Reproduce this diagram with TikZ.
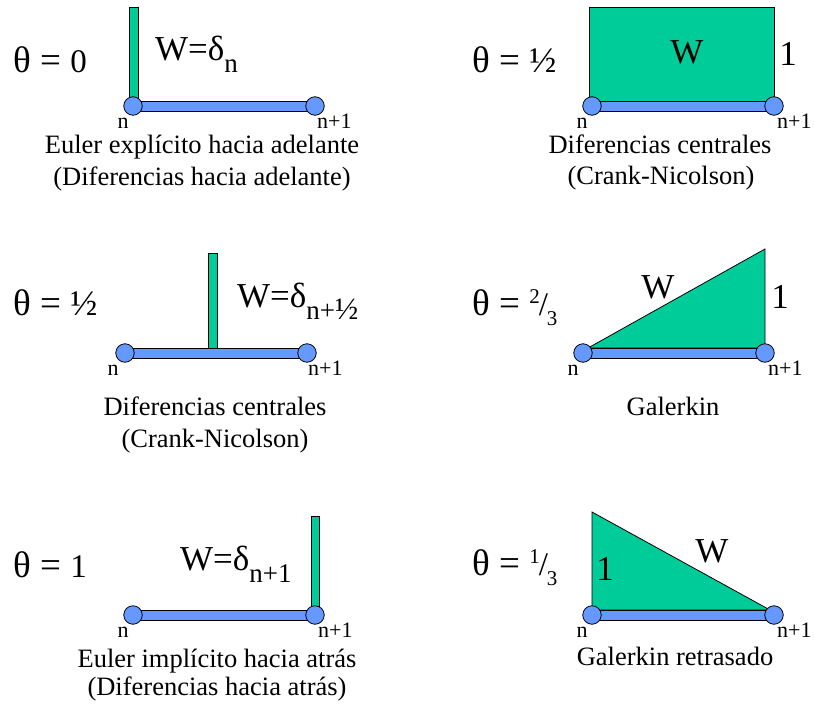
\documentclass[tikz,border=0pt]{standalone}
\usepackage{fontspec}
\setmainfont{Liberation Serif}
\definecolor{wgreen}{HTML}{00CC99}
\definecolor{nblue}{HTML}{6699FF}
\newcommand\lowsub[1]{\raisebox{-12pt}{\fontsize{27}{30}\selectfont #1}}
\newcommand\thq{{\fontsize{37}{40}\selectfont θ = }}
\newcommand\myfrac[2]{\raisebox{12pt}{\fontsize{21}{24}\selectfont #1}\kern-1pt/\kern-1pt\raisebox{-10pt}{\fontsize{21}{24}\selectfont #2}}
\newcommand\myhalf{{\fontsize{36}{40}\selectfont ½}}
\tikzset{
 dot/.style={circle,draw=black,fill=nblue,inner sep=0pt,minimum size=18.5pt,line width=0.8pt},
 barbox/.style={draw=black,fill=nblue,line width=0.8pt},
 wshape/.style={draw=black,fill=wgreen,line width=0.8pt},
 thetalbl/.style={inner sep=0pt,anchor=base west,font=\fontsize{33}{38}\selectfont},
 wlbl/.style={inner sep=0pt,anchor=base,font=\fontsize{35}{40}\selectfont},
 idx/.style={inner sep=0pt,anchor=base,font=\fontsize{22}{26}\selectfont},
 idxr/.style={idx,anchor=base west},
 captxt/.style={inner sep=0pt,anchor=base,font=\fontsize{26.5}{32}\selectfont},
}
\begin{document}
\begin{tikzpicture}[x=1pt,y=-1pt]
\useasboundingbox[fill=white] (0,0) rectangle (815,710);
% ---- Panel 1: theta = 0
\coordinate (a1) at (133,106); \coordinate (a2) at (315,106);
\draw[wshape] (129,7) rectangle (138,101);
\draw[barbox] ([yshift=5pt]a1) rectangle ([yshift=-5pt]a2);
\node[dot] (na1) at (a1) {}; \node[dot] (na2) at (a2) {};
\node[thetalbl] (t1) at (13,72) {\thq 0};
\node[wlbl,anchor=base west] (w1) at (155,60) {W=δ\lowsub{n}};
\node[idx] (la1) at (123,128) {n}; \node[idxr] (lb1) at (317,128) {n+1};
\node[captxt] (c1a) at (202,153) {Euler explícito hacia adelante};
\node[captxt] (c1b) at (202,185) {(Diferencias hacia adelante)};
% ---- Panel 2: theta = 1/2 rectangle
\coordinate (b1) at (592,106); \coordinate (b2) at (774,106);
\draw[wshape] (589,7) rectangle (774,101);
\draw[barbox] ([yshift=5pt]b1) rectangle ([yshift=-5pt]b2);
\node[dot] (nb1) at (b1) {}; \node[dot] (nb2) at (b2) {};
\node[thetalbl] (t2) at (472,72) {\thq\myhalf};
\node[wlbl] (w2) at (687,63) {W};
\node[wlbl] (o2) at (788,65) {1};
\node[idx] (la2) at (582,128) {n}; \node[idxr] (lb2) at (777,128) {n+1};
\node[captxt] (c2a) at (660,153) {Diferencias centrales};
\node[captxt] (c2b) at (661,184) {(Crank-Nicolson)};
% ---- Panel 3: theta = 1/2 delta
\coordinate (c1) at (125,353); \coordinate (c2) at (307,353);
\draw[wshape] (208,253) rectangle (217,348);
\draw[barbox] ([yshift=5pt]c1) rectangle ([yshift=-5pt]c2);
\node[dot] (nc1) at (c1) {}; \node[dot] (nc2) at (c2) {};
\node[thetalbl] (t3) at (13,315) {\thq\myhalf};
\node[wlbl,anchor=base west] (w3) at (237,307) {W=δ\lowsub{n+{\fontsize{31}{34}\selectfont ½}}};
\node[idx] (la3) at (113,375) {n}; \node[idxr] (lb3) at (308,375) {n+1};
\node[captxt] (c3a) at (215,415) {Diferencias centrales};
\node[captxt] (c3b) at (215,447) {(Crank-Nicolson)};
% ---- Panel 4: theta = 2/3
\coordinate (d1) at (583,353); \coordinate (d2) at (765,353);
\draw[wshape] (588,348) -- (765,249) -- (765,348) -- cycle;
\draw[barbox] ([yshift=5pt]d1) rectangle ([yshift=-5pt]d2);
\node[dot] (nd1) at (d1) {}; \node[dot] (nd2) at (d2) {};
\node[thetalbl] (t4) at (472,315) {\thq\myfrac{2}{3}};
\node[wlbl] (w4) at (658,298) {W};
\node[wlbl] (o4) at (780,308) {1};
\node[idx] (la4) at (573,375) {n}; \node[idxr] (lb4) at (768,375) {n+1};
\node[captxt] (c4a) at (673,415) {Galerkin};
% ---- Panel 5: theta = 1
\coordinate (e1) at (133,615); \coordinate (e2) at (315,615);
\draw[wshape] (311,516) rectangle (319,610);
\draw[barbox] ([yshift=5pt]e1) rectangle ([yshift=-5pt]e2);
\node[dot] (ne1) at (e1) {}; \node[dot] (ne2) at (e2) {};
\node[thetalbl] (t5) at (13,577) {\thq 1};
\node[wlbl,anchor=base west] (w5) at (180,570) {W=δ\lowsub{n+1}};
\node[idx] (la5) at (123,637) {n}; \node[idxr] (lb5) at (318,637) {n+1};
\node[captxt] (c5a) at (217,667) {Euler implícito hacia atrás};
\node[captxt] (c5b) at (217,695) {(Diferencias hacia atrás)};
% ---- Panel 6: theta = 1/3
\coordinate (f1) at (592,615); \coordinate (f2) at (774,615);
\draw[wshape] (592,512) -- (592,610) -- (770,610) -- cycle;
\draw[barbox] ([yshift=5pt]f1) rectangle ([yshift=-5pt]f2);
\node[dot] (nf1) at (f1) {}; \node[dot] (nf2) at (f2) {};
\node[thetalbl] (t6) at (472,575) {\thq\myfrac{1}{3}};
\node[wlbl] (o6) at (605,580) {1};
\node[wlbl] (w6) at (712,562) {W};
\node[idx] (la6) at (582,637) {n}; \node[idxr] (lb6) at (777,637) {n+1};
\node[captxt] (c6a) at (675,665) {Galerkin retrasado};
\end{tikzpicture}
\end{document}
